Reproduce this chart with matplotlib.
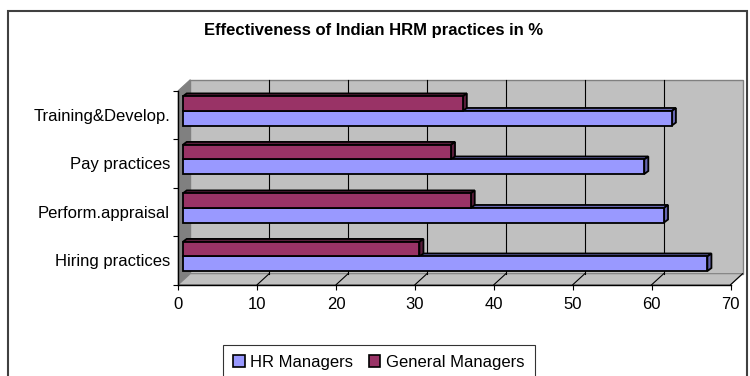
import matplotlib
matplotlib.use('Agg')
import matplotlib.pyplot as plt
from matplotlib.patches import Polygon, Patch, Rectangle

plt.rcParams['font.family'] = ['Liberation Sans', 'DejaVu Sans']

categories = ['Hiring practices', 'Perform.appraisal', 'Pay practices', 'Training&Develop.']
hr_managers = [66.5, 61, 58.5, 62]
general_managers = [30, 36.5, 34, 35.5]
x_ticks = [0, 10, 20, 30, 40, 50, 60, 70]

hr_color = '#9999ff'
hr_dark = '#6666b0'
gm_color = '#993366'
gm_dark = '#5a1e3c'
wall = '#c0c0c0'
wall_side = '#808080'

fig = plt.figure(figsize=(7.5, 3.76), dpi=100)
ax = fig.add_axes([178.3 / 750, 1 - 284.7 / 376, 552.3 / 750, 194 / 376])
ax.set_xlim(0, 70)
ax.set_ylim(-0.5, 3.5)
ax.patch.set_visible(False)

# depth of the 3d box and of the bars, in data units
dx, dy = 1.52, 0.227
fx, fy = 0.56, 0.082
bx, by = 0.51, 0.062
bar_h = 0.3

y0, y1 = -0.5, 3.5
x1 = 70

def poly(pts, fc, ec, lw=0.8, z=0):
    p = Polygon(pts, closed=True, facecolor=fc, edgecolor=ec, lw=lw,
                clip_on=False, zorder=z)
    ax.add_patch(p)

# back wall, side wall, floor
poly([(dx, y0 + dy), (x1 + dx, y0 + dy), (x1 + dx, y1 + dy), (dx, y1 + dy)], wall, '#808080', 1.0, 0)
poly([(0, y0), (dx, y0 + dy), (dx, y1 + dy), (0, y1)], wall_side, '#808080', 0.8, 0.5)
poly([(0, y0), (x1, y0), (x1 + dx, y0 + dy), (dx, y0 + dy)], wall, '#808080', 0.8, 0.5)

# gridlines on the back wall and the floor
for t in x_ticks[1:-1]:
    ax.plot([t + dx, t + dx], [y0 + dy, y1 + dy], color='black', lw=0.8, zorder=1, clip_on=False)
for t in x_ticks[1:]:
    ax.plot([t, t + dx], [y0, y0 + dy], color='black', lw=0.8, zorder=1, clip_on=False)

# bars with their top and end faces
ys = range(len(categories))
for vals, off, fc, dark in [(hr_managers, -bar_h / 2, hr_color, hr_dark),
                            (general_managers, bar_h / 2, gm_color, gm_dark)]:
    for y, v in zip(ys, vals):
        yb = y + fy + off - bar_h / 2
        yt = yb + bar_h
        poly([(fx, yt), (fx + v, yt), (fx + v + bx, yt + by), (fx + bx, yt + by)], dark, 'black', 1.3, 2)
        poly([(fx + v, yb), (fx + v + bx, yb + by), (fx + v + bx, yt + by), (fx + v, yt)], dark, 'black', 1.3, 2)
    ax.barh([y + fy + off for y in ys], vals, height=bar_h, left=fx, color=fc,
            edgecolor='black', linewidth=1.3, zorder=3, clip_on=False)

for s in ['top', 'right']:
    ax.spines[s].set_visible(False)
for s in ['left', 'bottom']:
    ax.spines[s].set_color('black')
    ax.spines[s].set_linewidth(1.0)
    ax.spines[s].set_zorder(4)

ax.set_xticks(x_ticks)
ax.tick_params(axis='x', length=3.5, width=0.8, labelsize=12, pad=5)
ax.set_yticks(list(ys))
ax.set_yticklabels(categories)
ax.set_yticks([y - 0.5 for y in range(len(categories) + 1)], minor=True)
ax.tick_params(axis='y', which='major', length=0, labelsize=12, pad=6)
ax.tick_params(axis='y', which='minor', length=3.5, width=0.8)

fig.text(374 / 750, 1 - 30 / 376, 'Effectiveness of Indian HRM practices in %',
         ha='center', va='center', fontsize=12, fontweight='bold')

handles = [Patch(facecolor=hr_color, edgecolor='black', lw=1.2, label='HR Managers'),
           Patch(facecolor=gm_color, edgecolor='black', lw=1.2, label='General Managers')]
leg = fig.legend(handles=handles, loc='upper left', bbox_to_anchor=(223 / 750, 1 - 345 / 376),
                 ncol=2, fontsize=12, frameon=True, fancybox=False, borderaxespad=0,
                 handlelength=0.7, handleheight=0.7, handletextpad=0.35,
                 columnspacing=0.9, borderpad=0.6)
leg.get_frame().set_edgecolor('black')
leg.get_frame().set_linewidth(0.8)

# chart border
fig.patches.append(Rectangle((8 / 750, -0.1), 739 / 750, 1.1 - 11 / 376,
                             transform=fig.transFigure, fill=False,
                             edgecolor='#404040', lw=1.5))

fig.savefig('out.png', dpi=100)
